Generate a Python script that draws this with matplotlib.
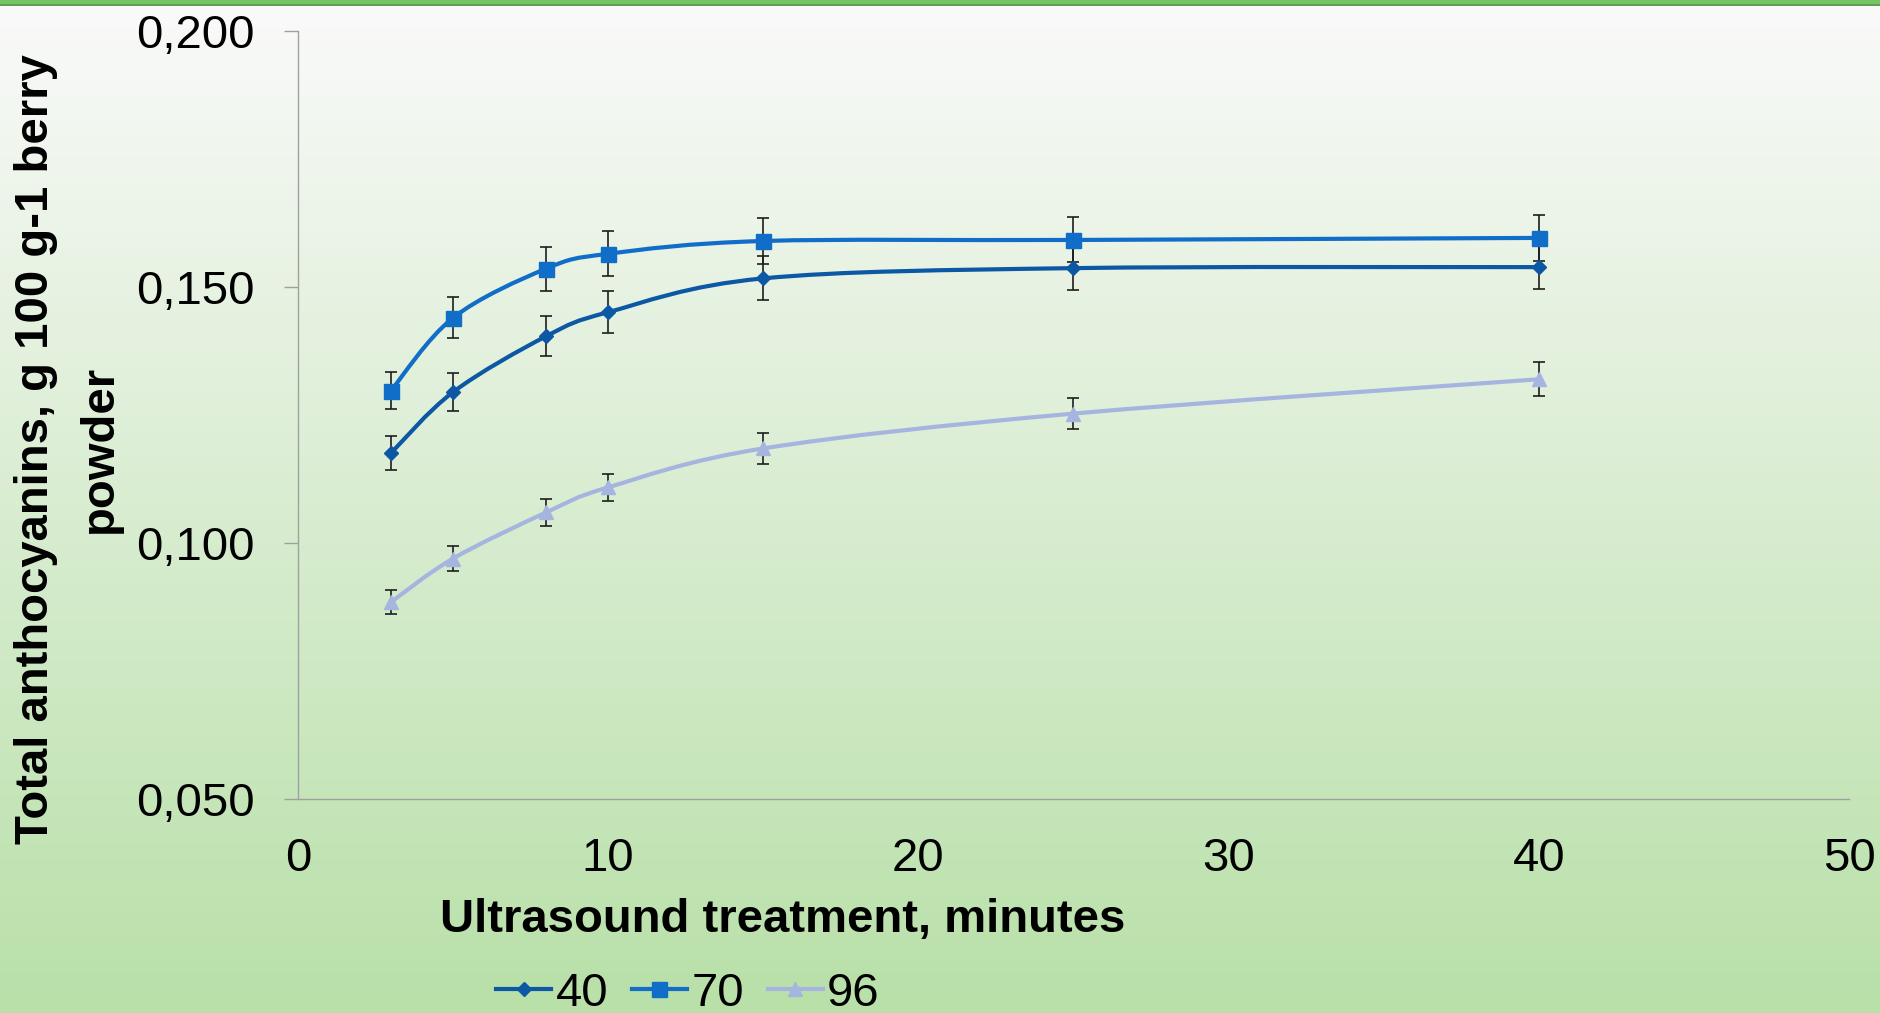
import numpy as np
import matplotlib
matplotlib.use("Agg")
import matplotlib.pyplot as plt
from matplotlib.path import Path
from matplotlib.patches import PathPatch, Rectangle
from matplotlib.lines import Line2D
from matplotlib.colors import LinearSegmentedColormap
from matplotlib.ticker import FuncFormatter

# --- data ---
minutes = [3, 5, 8, 10, 15, 25, 40]
series_names = ["40", "70", "96"]
ant_40 = [0.1176, 0.1295, 0.1404, 0.1451, 0.1517, 0.1537, 0.1539]
err_40 = [0.0033, 0.0037, 0.0039, 0.0041, 0.0043, 0.0043, 0.0043]
ant_70 = [0.1298, 0.1440, 0.1536, 0.1565, 0.1590, 0.1592, 0.1596]
err_70 = [0.0036, 0.0040, 0.0043, 0.0044, 0.0045, 0.0044, 0.0045]
ant_96 = [0.0885, 0.0970, 0.1060, 0.1109, 0.1185, 0.1253, 0.1320]
err_96 = [0.0023, 0.0024, 0.0026, 0.0027, 0.0030, 0.0031, 0.0033]

x_ticks = [0, 10, 20, 30, 40, 50]
y_ticks = [0.050, 0.100, 0.150, 0.200]

colors = ["#0c58a4", "#106ec8", "#a5b5e0"]
markers = ["D", "s", "^"]
marker_sizes = [7, 10.8, 10.5]

plt.rcParams["font.family"] = ["Liberation Sans", "DejaVu Sans"]


def smooth_path(xs, ys):
    # Excel-like smoothed line: cubic Bezier segments through every point
    pts = np.column_stack([xs, ys]).astype(float)
    padded = np.vstack([pts[0], pts, pts[-1]])
    verts = [pts[0]]
    codes = [Path.MOVETO]
    for i in range(len(pts) - 1):
        p0, p1, p2, p3 = padded[i], padded[i + 1], padded[i + 2], padded[i + 3]
        verts += [p1 + (p2 - p0) / 6.0, p2 - (p3 - p1) / 6.0, p2]
        codes += [Path.CURVE4] * 3
    return Path(verts, codes)


fig = plt.figure(figsize=(18.81, 10.13), dpi=100)

# background: vertical gradient plus the green band on top
bg = fig.add_axes([0, 0, 1, 1], zorder=-10)
grad = np.linspace(0, 1, 256).reshape(-1, 1)
cmap = LinearSegmentedColormap.from_list("bg", ["#fafafa", "#b8e0a8"])
bg.imshow(grad, aspect="auto", cmap=cmap, extent=[0, 1, 0, 1], origin="upper")
bg.add_patch(Rectangle((0, 1 - 4 / 1013), 1, 4 / 1013, color="#76c466", lw=0))
bg.add_patch(Rectangle((0, 1 - 6 / 1013), 1, 2 / 1013, color="#5f9f52", lw=0))
bg.set_xlim(0, 1)
bg.set_ylim(0, 1)
bg.axis("off")

ax = fig.add_axes([0.1584, 0.2110, 0.8246, 0.7584], zorder=1)
ax.set_facecolor("none")

all_y = [ant_40, ant_70, ant_96]
all_e = [err_40, err_70, err_96]
handles = []
for name, ys, es, c, m, ms in zip(series_names, all_y, all_e, colors, markers, marker_sizes):
    ax.errorbar(minutes, ys, yerr=es, fmt="none", ecolor="#1e1e1e",
                elinewidth=1.2, capsize=4.4, capthick=1.2, zorder=2)
    ax.add_patch(PathPatch(smooth_path(minutes, ys), facecolor="none",
                           edgecolor=c, lw=3.0, zorder=3))
    ax.plot(minutes, ys, linestyle="none", marker=m, ms=ms, color=c, zorder=4)
    handles.append(Line2D([], [], color=c, lw=3.0, marker=m, ms=ms))

ax.set_xlim(0, 50)
ax.set_ylim(0.05, 0.2)
ax.set_xticks(x_ticks)
ax.set_yticks(y_ticks)
ax.yaxis.set_major_formatter(FuncFormatter(lambda v, _: f"{v:.3f}".replace(".", ",")))

for side in ["top", "right"]:
    ax.spines[side].set_visible(False)
for side in ["left", "bottom"]:
    ax.spines[side].set_color("#a0a0a0")
    ax.spines[side].set_linewidth(1.0)

ax.tick_params(axis="y", direction="out", length=10, width=1.0, color="#a0a0a0",
               labelsize=34, pad=21)
ax.tick_params(axis="x", length=0, labelsize=34, pad=27)

fig.text(0.4163, 0.080, "Ultrasound treatment, minutes", ha="center", va="baseline",
         fontsize=34, fontweight="bold")
fig.text(0.0362, 0.5568, "Total anthocyanins, g 100 g-1 berry\npowder", rotation=90,
         ha="center", va="center", multialignment="center", fontsize=34,
         fontweight="bold", linespacing=1.6)

fig.legend(handles, series_names, loc="center", bbox_to_anchor=(0.3658, 0.019),
           ncol=3, frameon=False, fontsize=34, handlelength=1.16, handletextpad=0.1,
           columnspacing=0.5, borderpad=0, numpoints=1)

fig.savefig("out.png", dpi=100)
